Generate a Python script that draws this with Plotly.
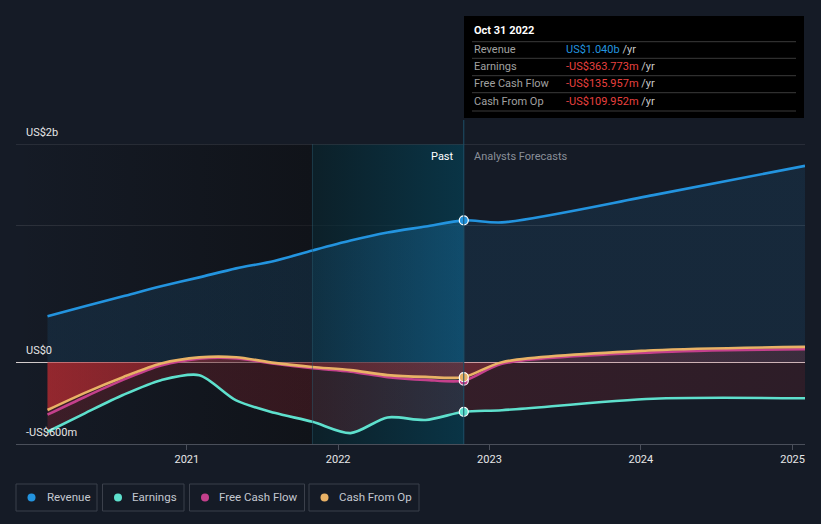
import plotly.graph_objects as go

# ---------------- data (US$ billions) ----------------
past_dates = ['2020-01-31', '2020-04-30', '2020-07-31', '2020-10-31', '2021-01-31', '2021-04-30',
              '2021-07-31', '2021-10-31', '2022-01-31', '2022-04-30', '2022-07-31', '2022-10-31']
fc_dates = ['2023-01-31', '2024-01-31', '2025-01-31']

revenue_past = [0.337, 0.41, 0.483, 0.556, 0.622, 0.688, 0.742, 0.819, 0.892, 0.951, 0.995, 1.040]
earnings_past = [-0.51, -0.375, -0.241, -0.132, -0.095, -0.28, -0.371, -0.437, -0.52, -0.405, -0.424, -0.363773]
fcf_past = [-0.385, -0.255, -0.13, -0.025, 0.025, 0.028, -0.012, -0.045, -0.07, -0.11, -0.13, -0.135957]
cfo_past = [-0.351, -0.225, -0.11, -0.01, 0.035, 0.036, -0.005, -0.035, -0.058, -0.095, -0.108, -0.109952]

revenue_fc = [1.025, 1.225, 1.44]
earnings_fc = [-0.352, -0.268, -0.265]
fcf_fc = [-0.012, 0.072, 0.095]
cfo_fc = [0.0, 0.087, 0.112]

tooltip_date = 'Oct 31 2022'
tooltip_labels = ['Revenue', 'Earnings', 'Free Cash Flow', 'Cash From Op']
tooltip_values = ['US$1.040b', '-US$363.773m', '-US$135.957m', '-US$109.952m']

y_tick_vals = [-0.6, 0, 1.0, 1.6]
y_label_texts = ['US$2b', 'US$0', '-US$600m']
y_label_vals = [1.6, 0, -0.6]
x_tick_vals = ['2021-01-01', '2022-01-01', '2023-01-01', '2024-01-01', '2025-01-01']
x_tick_text = ['2021', '2022', '2023', '2024', '2025']

names = ['Revenue', 'Earnings', 'Free Cash Flow', 'Cash From Op']
colors = ['#2394df', '#5ee0cd', '#c4408c', '#e9b266']

# ---------------- layout constants ----------------
W, H = 821, 524
L, R, T, B = 16, 16, 144, 80
PW, PH = W - L - R, H - T - B
BG = '#151b26'
FONT = 'Roboto'


def px(x):
    return (x - L) / PW


def py(y):
    return (H - B - y) / PH


dates = past_dates + fc_dates
series = [revenue_past + revenue_fc, earnings_past + earnings_fc,
          fcf_past + fcf_fc, cfo_past + cfo_fc]

x_start, x_end = '2019-11-16', '2025-01-31'
hl_start, now = '2021-10-31', '2022-10-31'
ymin, ymax = -0.6, 1.6

fig = go.Figure()

# darker past band (gradient)
fig.add_trace(go.Scatter(
    x=[x_start, hl_start, hl_start, x_start, x_start], y=[ymin, ymin, ymax, ymax, ymin],
    mode='lines', line=dict(width=0), fill='toself',
    fillgradient=dict(type='horizontal', colorscale=[[0, 'rgba(11,11,12,0)'], [1, 'rgba(11,11,12,0.5)']]),
    hoverinfo='skip', showlegend=False))
# teal highlight of last year
fig.add_trace(go.Scatter(
    x=[hl_start, now, now, hl_start, hl_start], y=[ymin, ymin, ymax, ymax, ymin],
    mode='lines', line=dict(width=0), fill='toself',
    fillgradient=dict(type='horizontal', colorscale=[[0, 'rgba(8,34,42,0.7)'], [1, 'rgba(5,62,82,0.72)']]),
    hoverinfo='skip', showlegend=False))

# fills
fig.add_trace(go.Scatter(
    x=dates, y=series[0], mode='lines', line=dict(width=0, shape='spline', smoothing=0.8),
    fill='tozeroy',
    fillgradient=dict(type='horizontal', colorscale=[[0, 'rgba(35,140,210,0.12)'], [0.35, 'rgba(35,140,210,0.15)'],
                                                      [0.548, 'rgba(35,140,210,0.27)'],
                                                      [0.552, 'rgba(35,140,210,0.12)'],
                                                      [1, 'rgba(35,140,210,0.12)']]),
    hoverinfo='skip', showlegend=False))
fig.add_trace(go.Scatter(
    x=dates, y=series[1], mode='lines', line=dict(width=0, shape='spline', smoothing=0.8),
    fill='tozeroy',
    fillgradient=dict(type='horizontal', colorscale=[[0, 'rgba(180,40,50,0.25)'], [1, 'rgba(180,40,50,0.15)']]),
    hoverinfo='skip', showlegend=False))
fig.add_trace(go.Scatter(
    x=dates, y=series[3], mode='lines', line=dict(width=0, shape='spline', smoothing=0.8),
    fill='tozeroy',
    fillgradient=dict(type='horizontal', colorscale=[[0, 'rgba(200,45,50,0.62)'], [0.3, 'rgba(200,45,50,0.32)'],
                                                      [0.55, 'rgba(200,60,70,0.3)'], [1, 'rgba(200,60,70,0.2)']]),
    hoverinfo='skip', showlegend=False))

# lines
for name, col, ys in zip(names, colors, series):
    fig.add_trace(go.Scatter(x=dates, y=ys, mode='lines', name=name,
                             line=dict(color=col, width=2.6, shape='spline', smoothing=0.8),
                             hoverinfo='skip', showlegend=False))
# markers at current point
fig.add_trace(go.Scatter(
    x=[now] * 4, y=[revenue_past[-1], earnings_past[-1], fcf_past[-1], cfo_past[-1]],
    mode='markers', marker=dict(size=9, color=[colors[0], colors[1], colors[2], colors[3]],
                                line=dict(color='#ffffff', width=1.2)),
    hoverinfo='skip', showlegend=False))

shapes = []
ann = []

# top gridline
shapes.append(dict(type='line', xref='paper', yref='y', x0=0, x1=1, y0=ymax, y1=ymax,
                   line=dict(color='#3c414b', width=1), layer='above'))
# vertical lines
shapes.append(dict(type='line', xref='x', yref='paper', x0=now, x1=now, y0=0, y1=py(120),
                   line=dict(color='#1d5068', width=1)))
shapes.append(dict(type='line', xref='x', yref='paper', x0=hl_start, x1=hl_start, y0=0, y1=1,
                   line=dict(color='rgba(40,90,110,0.5)', width=1)))

# y labels
for txt, v in zip(y_label_texts, y_label_vals):
    ypix = (H - B) - (v - ymin) / (ymax - ymin) * PH
    ann.append(dict(text=txt, xref='paper', yref='paper', x=px(24), y=py(ypix - 12), xanchor='left',
                    yanchor='middle', showarrow=False, font=dict(family=FONT, size=11, color='#e6e6e6')))

ann.append(dict(text='Past', xref='paper', yref='paper', x=px(456), y=py(156), xanchor='right',
                yanchor='middle', showarrow=False, font=dict(family=FONT, size=11, color='#ffffff')))
ann.append(dict(text='Analysts Forecasts', xref='paper', yref='paper', x=px(472), y=py(156), xanchor='left',
                yanchor='middle', showarrow=False, font=dict(family=FONT, size=11, color='#8a8f99')))

# tooltip box
shapes.append(dict(type='rect', xref='paper', yref='paper', x0=px(464), x1=px(804), y0=py(118), y1=py(16),
                   fillcolor='#000000', line=dict(width=0), layer='above'))
ann.append(dict(text='<b>' + tooltip_date + '</b>', xref='paper', yref='paper', x=px(472), y=py(31),
                xanchor='left', yanchor='middle', showarrow=False,
                font=dict(family=FONT, size=11, color='#ffffff')))
for yl in [41.7, 58.3, 75.7, 92.7, 111]:
    shapes.append(dict(type='line', xref='paper', yref='paper', x0=px(472), x1=px(796), y0=py(yl), y1=py(yl),
                       line=dict(color='#3a3a3a', width=1), layer='above'))
row_y = [49.3, 66, 83.7, 101]
val_colors = ['#2394df', '#e8413f', '#e8413f', '#e8413f']
for lab, val, vc, yy in zip(tooltip_labels, tooltip_values, val_colors, row_y):
    ann.append(dict(text=lab, xref='paper', yref='paper', x=px(472), y=py(yy), xanchor='left',
                    yanchor='middle', showarrow=False, font=dict(family=FONT, size=11, color='#a0a0a0')))
    ann.append(dict(text='<span style="color:%s">%s</span> /yr' % (vc, val), xref='paper', yref='paper',
                    x=px(564), y=py(yy), xanchor='left', yanchor='middle', showarrow=False,
                    font=dict(family=FONT, size=11, color='#c8c8c8')))

# legend boxes
boxes = [(16, 97), (102.5, 184), (189.5, 304.5), (309, 419)]
dots = [31.5, 118, 205, 324.5]
texts_x = [44.5, 130, 217, 337]
for (bx0, bx1), dx, tx, name, col in zip(boxes, dots, texts_x, names, colors):
    shapes.append(dict(type='rect', xref='paper', yref='paper', x0=px(bx0), x1=px(bx1), y0=py(511), y1=py(484),
                       line=dict(color='#3b404b', width=1), fillcolor='rgba(0,0,0,0)'))
    shapes.append(dict(type='circle', xref='paper', yref='paper', x0=px(dx - 4), x1=px(dx + 4),
                       y0=py(497.5 + 4), y1=py(497.5 - 4), fillcolor=col, line=dict(width=0)))
    ann.append(dict(text=name, xref='paper', yref='paper', x=px(tx), y=py(497.5), xanchor='left',
                    yanchor='middle', showarrow=False, font=dict(family=FONT, size=11.5, color='#c4c8d0')))

fig.update_layout(
    width=W, height=H, autosize=False,
    margin=dict(l=L, r=R, t=T, b=B, pad=0),
    paper_bgcolor=BG, plot_bgcolor=BG,
    shapes=shapes, annotations=ann, showlegend=False,
    xaxis=dict(type='date', range=[x_start, x_end], showgrid=False, zeroline=False,
               tickvals=x_tick_vals, ticktext=x_tick_text, ticks='outside', ticklen=5,
               tickcolor='#4a4f5a', showline=True, linecolor='#4a4f5a', linewidth=1,
               tickfont=dict(family=FONT, size=11, color='#e6e6e6'), fixedrange=True),
    yaxis=dict(range=[ymin, ymax], tickvals=y_tick_vals, showticklabels=False, showgrid=True,
               gridcolor='#2c313b', gridwidth=1, zeroline=True, zerolinecolor='#d6cfcf', zerolinewidth=1,
               fixedrange=True),
)

fig.write_html('out.html', config={'displayModeBar': False},
               post_script="document.body.style.margin='0';document.body.style.background='%s';" % BG)
